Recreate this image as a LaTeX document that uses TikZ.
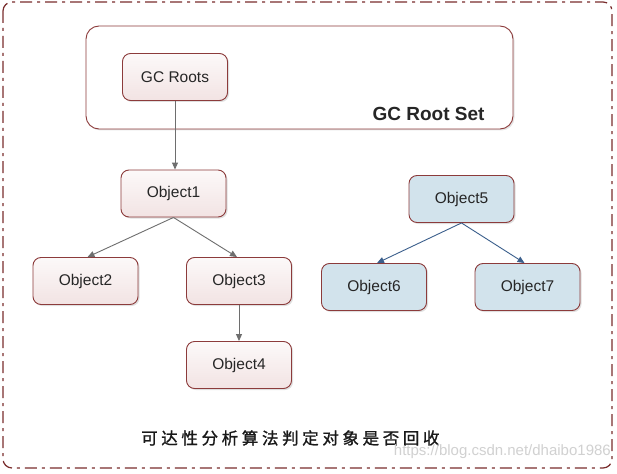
\documentclass[tikz,border=0pt]{standalone}
\usepackage{fontspec}
\setmainfont{Liberation Sans}
\newfontfamily\cjk[LetterSpace=22,FakeBold=1.2]{Noto Sans CJK SC}
\usetikzlibrary{arrows.meta,shadows}
\definecolor{bordred}{HTML}{8C3B3B}
\definecolor{outred}{HTML}{7A2E2E}
\definecolor{pinktop}{HTML}{FCF9F9}
\definecolor{pinkbot}{HTML}{F2E3E3}
\definecolor{bluefill}{HTML}{D2E3EC}
\definecolor{arrgray}{HTML}{6E6E6E}
\definecolor{arrblue}{HTML}{3B5F8C}
\tikzset{
  objbox/.style={draw=bordred, line width=0.9pt, rounded corners=8pt,
    minimum width=105pt, minimum height=47pt, inner sep=0pt,
    top color=pinktop, bottom color=pinkbot,
    drop shadow={shadow xshift=1.5pt, shadow yshift=-1.5pt, opacity=0.25, fill=gray},
    font=\fontsize{15.5}{17}\selectfont, text=black!85},
  bluebox/.style={objbox, top color=bluefill, bottom color=bluefill},
  grayarrow/.style={draw=arrgray, line width=0.9pt, -{Triangle[length=7pt,width=6pt]}},
  bluearrow/.style={draw=arrblue, line width=0.9pt, -{Triangle[length=7pt,width=6pt]}},
}
\begin{document}
\begin{tikzpicture}[x=1pt,y=-1pt]
\useasboundingbox (0,0) rectangle (617,473);
\fill[white] (0,0) rectangle (617,473);
% outer dash-dot frame
\draw[outred, line width=1.2pt, rounded corners=9pt,
  dash pattern=on 12pt off 5pt on 3pt off 5pt] (3,2) rectangle (612,468);
% GC root set container
\node[draw=bordred, line width=0.9pt, rounded corners=13pt, minimum width=427pt,
  minimum height=103pt, inner sep=0pt,
  drop shadow={shadow xshift=1.5pt, shadow yshift=-1.5pt, opacity=0.2, fill=gray},
  fill=white] (set) at (299.5,77.5) {};
\node[font=\bfseries\fontsize{19}{21}\selectfont, text=black!85, anchor=east] (setlabel) at (488,114) {GC Root Set};
% nodes
\node[objbox] (roots) at (175,77) {GC Roots};
\node[objbox] (o1) at (173.5,193.5) {Object1};
\node[objbox] (o2) at (85.5,281) {Object2};
\node[objbox] (o3) at (239,281) {Object3};
\node[objbox] (o4) at (239,365) {Object4};
\node[bluebox] (o5) at (461.5,199) {Object5};
\node[bluebox] (o6) at (374,287) {Object6};
\node[bluebox] (o7) at (527.5,287) {Object7};
% connectors
\draw[grayarrow] (roots.south) -- (roots.south |- o1.north);
\draw[grayarrow] (o1.south) -- ([xshift=2pt]o2.north);
\draw[grayarrow] (o1.south) -- ([xshift=-2pt]o3.north);
\draw[grayarrow] (o3.south) -- (o4.north);
\draw[bluearrow] (o5.south) -- ([xshift=3pt]o6.north);
\draw[bluearrow] (o5.south) -- ([xshift=-3pt]o7.north);
% caption
\node[font=\cjk\fontsize{16.5}{18}\selectfont, text=black!90, anchor=west, inner sep=0pt] (cap) at (141,438) {可达性分析算法判定对象是否回收};
\node[font=\fontsize{15}{17}\selectfont, text=black!18, anchor=east, inner sep=0pt] (wm) at (611,452) {https://blog.csdn.net/dhaibo1986};
\end{tikzpicture}
\end{document}
